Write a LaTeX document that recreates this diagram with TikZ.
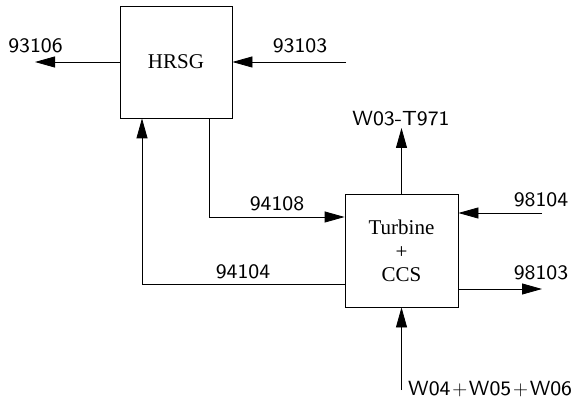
\documentclass[tikz,border=0pt]{standalone}
\usepackage{fontspec}
\newfontfamily\boxfont{Liberation Serif}
\newfontfamily\lblfont{lmsans8-regular.otf}
\usetikzlibrary{arrows.meta}
\newcommand{\pl}{\kern1.75pt$+$\kern1.75pt}
\begin{document}
\begin{tikzpicture}[x=1pt,y=-1pt,
  blk/.style={draw,line width=0.8pt,inner sep=0pt},
  flow/.style={line width=0.8pt,-{Triangle[length=20pt,width=11pt]}},
  lbl/.style={font=\fontsize{20.5}{24}\lblfont,anchor=base,inner sep=0pt},
  boxtxt/.style={font=\fontsize{21}{23.5}\boxfont,align=center}]
\useasboundingbox (0,0) rectangle (575,403);
\node[blk,minimum width=112pt,minimum height=112pt] (hrsg) at (176,62) {};
\node[boxtxt] (hrsgt) at (176,62) {HRSG};
\node[blk,minimum width=113pt,minimum height=113pt] (tur) at (401.5,250.5) {};
\node[boxtxt] (turt) at (401.5,251) {Turbine\\+\\CCS};
% coordinates
\coordinate (o93106) at (35,62);
\coordinate (i93103) at (346,62);
\coordinate (oW03) at (401.5,128);
\coordinate (c1) at (209,217);
\coordinate (c2) at (142,284);
\coordinate (i98104) at (542,213);
\coordinate (o98103) at (542,289);
\coordinate (iW04) at (401.5,390);
% flows
\draw[flow] (hrsg.west) -- (o93106);
\draw[flow] (i93103) -- (hrsg.east);
\draw[flow] (tur.north) -- (oW03);
\draw[flow] (hrsg.south -| c1) -- (c1) -- (c1 -| tur.west);
\draw[flow] (c2 -| tur.west) -- (c2) -- (c2 |- hrsg.south);
\draw[flow] (i98104) -- (i98104 -| tur.east);
\draw[flow] (o98103 -| tur.east) -- (o98103);
\draw[flow] (iW04) -- (tur.south);
% labels
\node[lbl] (l1) at (35.5,53) {93106};
\node[lbl] (l2) at (300,53) {93103};
\node[lbl] (l3) at (401,126) {W03-T971};
\node[lbl] (l4) at (277,211) {94108};
\node[lbl] (l5) at (243,278) {94104};
\node[lbl] (l6) at (541,207) {98104};
\node[lbl] (l7) at (541,279) {98103};
\node[lbl,anchor=base west] (l8) at (408,395) {W04\pl W05\pl W06};
\end{tikzpicture}
\end{document}
